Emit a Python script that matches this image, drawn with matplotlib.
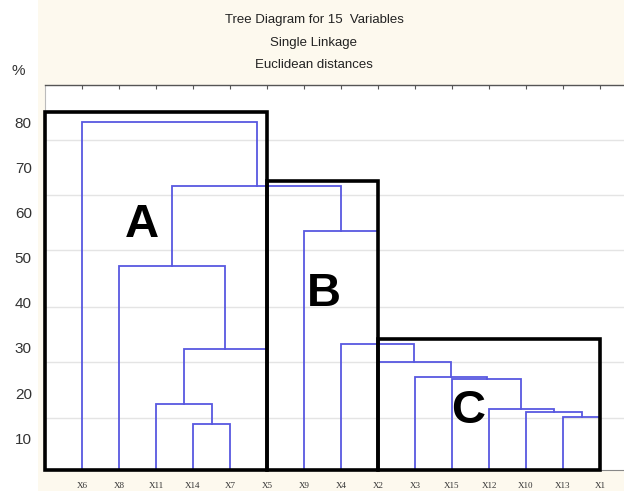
import matplotlib
matplotlib.use("Agg")
import matplotlib.pyplot as plt
from matplotlib.patches import Rectangle

# ---------------- data ----------------
leaves = ['X6', 'X8', 'X11', 'X14', 'X7', 'X5', 'X9', 'X4', 'X2',
          'X3', 'X15', 'X12', 'X10', 'X13', 'X1']

# merges (single linkage), heights read on the "%" axis
merge_a = ['X13', 'X10', 'X12', 'X15', 'X3', 'X2', 'X4', 'X9',
           'X14', 'X11', 'N10', 'X8', 'N12', 'X6']
merge_b = ['X1', 'N1', 'N2', 'N3', 'N4', 'N5', 'N6', 'N7',
           'X7', 'N9', 'X5', 'N11', 'N8', 'N13']
merge_h = [14.8, 15.7, 16.5, 23.1, 23.6, 26.9, 30.9, 55.9,
           13.1, 17.6, 29.8, 48.2, 65.9, 80.1]

# cluster boxes A, B, C (leaf-position extents and top height)
box_labels = ['A', 'B', 'C']
box_left = [0, 6, 9]
box_right = [6, 9, 15]
box_top = [82.4, 67.1, 32.0]

y_ticks = [10, 20, 30, 40, 50, 60, 70, 80]
grid_levels = [14.5, 26.9, 39.0, 51.7, 63.9, 76.1]
y_floor = 2.95
y_ceil = 88.3

title_lines = ['Tree Diagram for 15  Variables', 'Single Linkage', 'Euclidean distances']

# ---------------- figure ----------------
W, H = 624, 491
fig = plt.figure(figsize=(W / 100, H / 100), dpi=100, facecolor='white')
fig.patches.append(Rectangle((38 / W, 0), 1, 1, transform=fig.transFigure,
                             facecolor='#fdf9ee', edgecolor='none', zorder=-10))

ax_left_px, ax_right_px, ax_top_px, ax_bot_px = 45, 630, 85, 470
ax = fig.add_axes([ax_left_px / W, (H - ax_bot_px) / H,
                   (ax_right_px - ax_left_px) / W, (ax_bot_px - ax_top_px) / H])
ax.set_facecolor('white')
ax.set_xlim(0, (ax_right_px - ax_left_px) / 37.0)
ax.set_ylim(y_floor, y_ceil)

link_color = '#5858e0'
pos = {name: i + 1 for i, name in enumerate(leaves)}
hgt = {name: y_floor for name in leaves}
for k, (a, b, h) in enumerate(zip(merge_a, merge_b, merge_h)):
    xa, xb = pos[a], pos[b]
    ax.plot([xa, xa, xb, xb], [hgt[a], h, h, hgt[b]], color=link_color,
            lw=1.3, solid_joinstyle='miter', zorder=3)
    node = 'N%d' % (k + 1)
    pos[node] = (xa + xb) / 2.0
    hgt[node] = h

for lab, l, r, t in zip(box_labels, box_left, box_right, box_top):
    ax.add_patch(Rectangle((l, y_floor), r - l, t - y_floor, fill=False,
                           edgecolor='black', lw=2.6, clip_on=False, zorder=5,
                           joinstyle='miter'))

letter_pos = {'A': (2.61, 54.6), 'B': (7.54, 39.3), 'C': (11.43, 13.4)}
for lab in box_labels:
    x, y = letter_pos[lab]
    ax.text(x, y, lab, fontsize=34, fontweight='bold', family='Liberation Sans',
            ha='center', va='baseline', color='black', zorder=6)

# grid
ax.set_yticks(grid_levels, minor=True)
ax.grid(which='minor', axis='y', color='#e4e4e4', lw=1.0, zorder=0)
ax.set_axisbelow(True)

ax.set_yticks(y_ticks)
ax.set_yticklabels([str(v) for v in y_ticks], fontsize=11,
                   family='Liberation Sans', color='#333333')
ax.tick_params(axis='y', which='both', length=0, pad=9.5)

ax.set_xticks(range(1, len(leaves) + 1))
ax.set_xticklabels(leaves, fontsize=6.5, family='Liberation Serif', color='#333333')
ax.tick_params(axis='x', bottom=False, top=True, direction='in', length=3,
               color='#555555', labelbottom=True, labeltop=False, pad=8.5)

ax.spines['top'].set_color('#555555')
ax.spines['top'].set_linewidth(1.0)
ax.spines['left'].set_color('#bbbbbb')
ax.spines['bottom'].set_color('#888888')
ax.spines['right'].set_visible(False)

for i, (line, ypx) in enumerate(zip(title_lines, [20, 43, 65])):
    fig.text(314 / W, 1 - ypx / H, line, fontsize=9.5, family='Liberation Sans',
             ha='center', va='center', color='#222222')
fig.text(18 / W, 1 - 71 / H, '%', fontsize=11, family='Liberation Sans',
         ha='center', va='center', color='#333333')

fig.savefig('out.png', dpi=100, facecolor=fig.get_facecolor())
